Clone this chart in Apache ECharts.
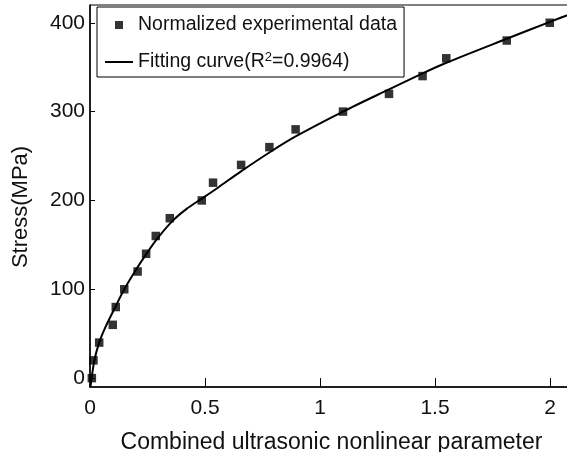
<!DOCTYPE html>
<html>
<head>
<meta charset="utf-8">
<script src="https://cdn.jsdelivr.net/npm/echarts@6/dist/echarts.min.js"></script>
<style>
html,body{margin:0;padding:0;background:#fff;}
#chart{width:567px;height:452px;}
</style>
</head>
<body>
<div id="chart"></div>
<script>
// Measured experimental points
const expX = [0.008, 0.015, 0.040, 0.099, 0.112, 0.149, 0.207, 0.244, 0.286, 0.347, 0.486, 0.535, 0.657, 0.780, 0.894, 1.100, 1.300, 1.446, 1.549, 1.812, 1.999];
const expY = [0, 20, 40, 60, 80, 100, 120, 140, 160, 180, 200, 220, 240, 260, 280, 300, 320, 340, 360, 380, 400];
// Fitting curve
const fitX = [0.002, 0.019, 0.040, 0.070, 0.110, 0.149, 0.200, 0.243, 0.294, 0.359, 0.420, 0.483, 0.551, 0.655, 0.780, 0.894, 1.100, 1.300, 1.446, 1.549, 1.812, 2.000, 2.100];
const fitY = [-10, 20, 40, 59, 80, 100, 122, 139, 157.5, 177, 190.5, 201.5, 213.5, 232.5, 254, 272, 300, 325, 343, 355, 382, 401, 411];
const xTicks = [0, 0.5, 1, 1.5, 2];
const yTicks = [0, 100, 200, 300, 400];
const seriesNames = ['Normalized experimental data', 'Fitting curve(R2=0.9964)'];

const FONT = '"Liberation Sans", Arial, sans-serif';
const TXT = '#111';

const chart = echarts.init(document.getElementById('chart'), null, {renderer: 'canvas'});
chart.setOption({
  animation: false,
  backgroundColor: '#fff',
  textStyle: {fontFamily: FONT, color: TXT},
  grid: {left: 90, top: 5, right: -6, bottom: 65, show: true, borderColor: '#000', borderWidth: 1,
    containLabel: false, outerBoundsMode: 'none'},
  legend: {
    orient: 'vertical', left: 97, top: 7,
    backgroundColor: '#fff',
    borderColor: '#000', borderWidth: 1,
    padding: [8, 7, 5, 8],
    itemGap: 16, itemWidth: 28, itemHeight: 8,
    data: [
      {name: seriesNames[0], icon: 'path://M0,0h8v8h-8z', itemStyle: {color: '#000'}},
      {name: seriesNames[1], icon: 'path://M0,0h28v2h-28z', itemStyle: {color: '#000'}}
    ],
    formatter: function (n) {
      if (n === seriesNames[1]) return '{a|Fitting curve(R}{sup|2}{a|=0.9964)}';
      return n;
    },
    textStyle: {
      fontFamily: FONT, fontSize: 19.5, color: TXT,
      rich: {
        a: {fontFamily: FONT, fontSize: 19.5, color: TXT},
        sup: {fontFamily: FONT, fontSize: 13, color: TXT, verticalAlign: 'top', padding: [0, 0, 9, 0]}
      }
    }
  },
  xAxis: [{
    type: 'value', min: 0, max: 2.1, position: 'bottom',
    name: 'Combined ultrasonic nonlinear parameter', nameLocation: 'middle', nameGap: 44,
    nameTextStyle: {fontFamily: FONT, fontSize: 23, color: TXT},
    axisLine: {show: true, onZero: false, lineStyle: {color: '#000', width: 1.5}},
    axisTick: {show: true, inside: true, length: 5, customValues: xTicks, lineStyle: {color: '#000'}},
    axisLabel: {show: true, customValues: xTicks, fontFamily: FONT, fontSize: 21, color: TXT, margin: 11,
      formatter: v => String(v)},
    splitLine: {show: false}
  }, {
    type: 'value', min: 0, max: 2.1, position: 'top',
    axisLine: {show: false},
    axisTick: {show: true, inside: true, length: 5, customValues: xTicks, lineStyle: {color: '#000'}},
    axisLabel: {show: false},
    splitLine: {show: false}
  }],
  yAxis: {
    type: 'value', min: -10, max: 420,
    name: 'Stress(MPa)', nameLocation: 'middle', nameGap: 58, nameRotate: 90,
    nameTextStyle: {fontFamily: FONT, fontSize: 22, color: TXT, padding: [0, 22, 0, 0]},
    axisLine: {show: true, onZero: false, lineStyle: {color: '#000', width: 1.5}},
    axisTick: {show: true, inside: true, length: 5, customValues: yTicks, lineStyle: {color: '#000'}},
    axisLabel: {show: true, customValues: yTicks, fontFamily: FONT, fontSize: 21, color: TXT, margin: 5},
    splitLine: {show: false}
  },
  series: [{
    name: seriesNames[0], type: 'scatter', xAxisIndex: 0,
    symbol: 'rect', symbolSize: 8.5,
    itemStyle: {color: '#000'},
    data: expX.map((x, i) => [x, expY[i]]),
    z: 3
  }, {
    name: seriesNames[1], type: 'line', xAxisIndex: 0,
    smooth: 0.3, symbol: 'none',
    lineStyle: {color: '#000', width: 2},
    itemStyle: {color: '#000'},
    data: fitX.map((x, i) => [x, fitY[i]]),
    z: 2
  }]
});
</script>
</body>
</html>
